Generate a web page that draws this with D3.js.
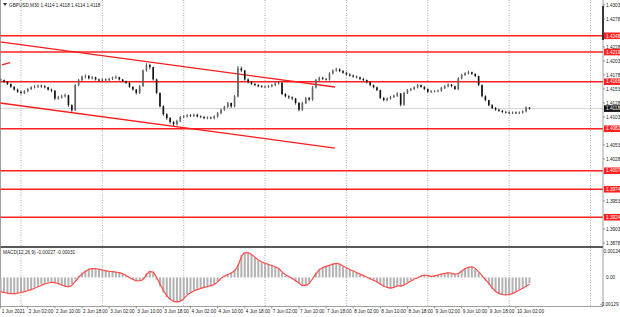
<!DOCTYPE html>
<html lang="en">
<head>
    <meta charset="UTF-8">
    <title>GBPUSD M30</title>
    <script src="https://d3js.org/d3.v7.min.js"></script>
    <style>
        body { margin: 0; background: #fff; }
        text { font-family: "Liberation Sans", Arial, sans-serif; font-size: 4.7px; fill: #222; }
        .lvl-label { fill: #fff; }
    </style>
</head>
<body>
    <svg width="620" height="317"></svg>
    <script>
        // prices in pips above 1.4000, one bar per hour starting 1 Jun 18:00
        const base = 1.4;
        const opens = [170,169,166,162,157,152,148,146,149,153,156,157,159,158,156,152,150,136,138,140,142,124,115,160,169,175,176,172,174,170,168,170,169,171,173,174,170,167,164,157,152,146,158,186,196,192,170,146,122,108,101,94,90,96,103,104,106,105,107,104,103,101,102,101,104,110,116,121,128,122,140,190,186,170,165,162,160,158,157,157,158,160,163,164,144,140,138,136,128,116,128,137,134,156,169,173,171,170,181,186,188,185,182,179,177,175,174,171,169,165,160,156,151,137,133,136,139,141,145,125,146,151,153,156,160,157,153,148,149,149,150,155,158,161,158,153,172,178,181,183,180,176,160,140,133,124,119,116,114,112,111,110,111,110,111,113,120];
        const highs = [172,170,167,163,158,154,150,151,155,158,160,161,161,160,157,154,151,141,143,145,143,126,162,171,177,179,178,176,175,172,172,172,173,175,177,175,171,168,165,158,153,160,188,199,198,193,172,147,124,110,103,96,98,105,106,108,108,109,109,106,105,104,104,106,112,118,123,130,129,142,194,193,187,172,167,164,162,160,159,160,162,165,167,165,146,142,140,137,130,130,139,139,158,171,175,175,173,183,188,191,190,187,184,181,179,177,175,173,170,166,161,157,152,139,138,141,143,147,146,148,153,155,158,162,161,158,154,151,151,152,157,160,163,162,159,174,180,183,186,184,181,177,161,142,134,126,121,118,116,114,113,113,113,113,115,122,121];
        const lows = [166,164,160,155,150,146,143,144,147,151,154,155,155,154,150,147,133,134,136,138,121,112,114,158,167,172,170,170,168,166,166,167,167,169,171,168,165,162,155,150,143,144,157,184,188,168,144,120,105,98,91,87,88,94,101,102,103,103,102,101,99,99,99,99,102,108,114,119,119,120,138,183,168,163,160,158,156,155,155,155,156,158,161,142,138,135,133,125,113,114,126,131,132,154,167,169,168,168,179,184,183,180,177,175,173,172,169,167,163,158,154,149,135,131,131,134,137,139,122,123,144,149,151,154,155,151,146,146,147,147,148,153,156,156,151,151,170,176,179,178,174,158,138,131,122,117,114,112,110,109,108,108,108,108,109,111,116];
        const closes = [169,166,162,157,152,148,146,149,153,156,157,159,158,156,152,150,136,138,140,142,124,115,160,169,175,176,172,174,170,168,170,169,171,173,174,170,167,164,157,152,146,158,186,196,192,170,146,122,108,101,94,90,96,103,104,106,105,107,104,103,101,102,101,104,110,116,121,128,122,140,190,186,170,165,162,160,158,157,157,158,160,163,164,144,140,138,136,128,116,128,137,134,156,169,173,171,170,181,186,188,185,182,179,177,175,174,171,169,165,160,156,151,137,133,136,139,141,145,125,146,151,153,156,160,157,153,148,149,149,150,155,158,161,158,153,172,178,181,183,180,176,160,140,133,124,119,116,114,112,111,110,111,110,111,113,120,118];

        // MACD(12,26,9), units of 0.00001
        const macdMain = [-66,-70,-73,-75,-73,-70,-66,-62,-57,-53,-45,-38,-31,-26,-22,-21,-24,-31,-37,-41,-44,-30,-9,8,22,32,40,41,40,35,31,29,27,25,24,22,15,6,-3,-12,-18,-14,-5,20,31,22,-10,-40,-68,-89,-102,-111,-110,-106,-92,-75,-66,-58,-53,-48,-44,-40,-36,-31,-16,0,8,15,22,35,58,102,115,110,102,88,75,68,62,58,52,46,38,20,8,2,-8,-18,-28,-40,-35,-22,0,22,40,46,52,57,62,66,58,49,42,34,27,20,13,6,0,-8,-15,-22,-32,-42,-47,-49,-44,-36,-40,-32,-22,-14,-6,0,8,12,8,4,8,13,16,19,22,18,14,20,33,42,48,49,38,20,4,-15,-32,-53,-66,-75,-79,-80,-76,-70,-63,-55,-46,-37,-27];
        const macdSignal = [-64,-68,-71,-73,-73,-71,-68,-64,-60,-55,-49,-42,-35,-29,-25,-22,-23,-28,-34,-39,-42,-35,-18,0,15,27,36,40,40,37,33,30,28,26,24,22,17,9,0,-8,-15,-15,-8,12,26,24,0,-30,-58,-82,-98,-108,-110,-107,-96,-80,-69,-61,-55,-50,-45,-41,-37,-32,-20,-4,5,13,20,31,52,92,111,111,104,91,79,70,64,59,54,48,40,25,12,4,-5,-15,-25,-36,-36,-26,-6,16,34,44,50,55,60,64,60,52,44,36,29,22,15,8,2,-6,-13,-20,-30,-39,-45,-48,-45,-38,-39,-34,-25,-16,-8,-2,6,10,9,5,7,11,15,18,21,19,15,18,29,39,46,48,41,25,8,-10,-27,-47,-62,-72,-77,-79,-77,-72,-65,-57,-49,-40,-31];

        const timeLabels = ["1 Jun 2021","2 Jun 02:00","2 Jun 10:00","2 Jun 18:00","3 Jun 02:00","3 Jun 10:00","3 Jun 18:00","4 Jun 02:00","4 Jun 10:00","4 Jun 18:00","7 Jun 02:00","7 Jun 10:00","7 Jun 18:00","8 Jun 02:00","8 Jun 10:00","8 Jun 18:00","9 Jun 02:00","9 Jun 10:00","9 Jun 18:00","10 Jun 02:00"];
        const priceTicks = [1.4303,1.4278,1.4253,1.4228,1.4203,1.4178,1.4153,1.4128,1.4103,1.4078,1.4053,1.4028,1.4003,1.3978,1.3953,1.3928,1.3903,1.3878];
        const levels = [1.4248,1.4219,1.4166,1.4082,1.4007,1.3974,1.3924];
        const lastPrice = 1.4118;
        const macdTicks = [0.00124, 0, -0.00129];
        // trend lines: [bar, price] pairs
        const trendLines = [
            [[-0.2, 1.4237], [98.6, 1.41566]],
            [[-0.2, 1.4128], [98.6, 1.40476]],
            [[0.4, 1.4196], [2.75, 1.4200]]
        ];

        const plotRight = 603;
        const svg = d3.select("svg");

        const x = d3.scaleLinear().domain([0, 174]).range([0.66, 590.5]);
        const y = d3.scaleLinear().domain([1.3878, 1.4303]).range([243, 5]);
        const ym = d3.scaleLinear().domain([-0.00129, 0.00124]).range([306, 250]);

        const bars = closes.map((c, i) => ({
            i, o: base + opens[i] / 1e4, h: base + highs[i] / 1e4,
            l: base + lows[i] / 1e4, c: base + c / 1e4
        }));

        svg.append("defs").append("clipPath").attr("id", "main")
            .append("rect").attr("x", 0).attr("y", 0).attr("width", plotRight).attr("height", 246);

        // day separators
        const days = d3.range(6, 175, 24);
        svg.append("g").selectAll("line").data(days).join("line")
            .attr("x1", d => x(d)).attr("x2", d => x(d))
            .attr("y1", 0).attr("y2", 306)
            .attr("stroke", "#9a9a9a").attr("stroke-width", 0.8)
            .attr("stroke-dasharray", "1,1.5");

        // bid line
        svg.append("line")
            .attr("x1", 0).attr("x2", plotRight)
            .attr("y1", y(lastPrice)).attr("y2", y(lastPrice))
            .attr("stroke", "#c8c8c8").attr("stroke-width", 0.8);

        // horizontal levels
        svg.append("g").selectAll("line").data(levels).join("line")
            .attr("x1", 0).attr("x2", plotRight)
            .attr("y1", d => y(d)).attr("y2", d => y(d))
            .attr("stroke", "#ff2020").attr("stroke-width", 1.6);

        // channel lines
        const main = svg.append("g").attr("clip-path", "url(#main)");
        main.selectAll("path.tl").data(trendLines).join("path")
            .attr("class", "tl")
            .attr("d", d3.line().x(d => x(d[0])).y(d => y(d[1])))
            .attr("stroke", "#ff1a1a").attr("stroke-width", 1.3).attr("fill", "none");

        // candles
        const cg = main.append("g");
        cg.selectAll("line").data(bars).join("line")
            .attr("x1", d => x(d.i)).attr("x2", d => x(d.i))
            .attr("y1", d => y(d.h)).attr("y2", d => y(d.l))
            .attr("stroke", "#222").attr("stroke-width", 0.8);
        cg.selectAll("rect").data(bars).join("rect")
            .attr("x", d => x(d.i) - 0.8).attr("width", 1.6)
            .attr("y", d => y(Math.max(d.o, d.c)))
            .attr("height", d => Math.max(0.7, Math.abs(y(d.o) - y(d.c))))
            .attr("fill", d => d.c >= d.o ? "#666" : "#111");

        // panel separators and borders
        svg.append("line").attr("x1", 0).attr("x2", plotRight).attr("y1", 247).attr("y2", 247)
            .attr("stroke", "#222").attr("stroke-width", 1.3);
        svg.append("line").attr("x1", 0).attr("x2", plotRight).attr("y1", 306.5).attr("y2", 306.5)
            .attr("stroke", "#888").attr("stroke-width", 0.8);
        svg.append("line").attr("x1", 0.5).attr("x2", 0.5).attr("y1", 0).attr("y2", 306.5)
            .attr("stroke", "#888").attr("stroke-width", 0.8);
        svg.append("line").attr("x1", plotRight).attr("x2", plotRight).attr("y1", 0).attr("y2", 306.5)
            .attr("stroke", "#888").attr("stroke-width", 0.8);
        svg.append("line").attr("x1", plotRight).attr("x2", plotRight).attr("y1", 6).attr("y2", 40)
            .attr("stroke", "#111").attr("stroke-width", 1.6);

        // MACD histogram and signal
        svg.append("g").selectAll("rect").data(macdMain).join("rect")
            .attr("x", (d, i) => x(i) - 1).attr("width", 2)
            .attr("y", d => Math.min(ym(0), ym(d / 1e5)))
            .attr("height", d => Math.abs(ym(d / 1e5) - ym(0)))
            .attr("fill", "#b2b2b2");
        svg.append("path").datum(macdSignal)
            .attr("d", d3.line().x((d, i) => x(i)).y(d => ym(d / 1e5)).curve(d3.curveMonotoneX))
            .attr("fill", "none").attr("stroke", "#ff4a4a").attr("stroke-width", 1.2);

        // price axis; labels hidden where a level tag covers them
        const tagged = levels.concat([lastPrice]);
        const shownTicks = priceTicks.filter(t => tagged.every(l => Math.abs(y(t) - y(l)) > 4.5));
        const ax = svg.append("g");
        ax.selectAll("line").data(priceTicks).join("line")
            .attr("x1", plotRight).attr("x2", plotRight + 2)
            .attr("y1", d => y(d)).attr("y2", d => y(d)).attr("stroke", "#555").attr("stroke-width", 0.6);
        ax.selectAll("text").data(shownTicks).join("text")
            .attr("x", 606).attr("y", d => y(d) + 1.7)
            .text(d => d.toFixed(4));

        ax.selectAll("text.m").data(macdTicks).join("text").attr("class", "m")
            .attr("x", (d, i) => i === 0 ? 603.5 : i === 1 ? 606 : 600)
            .attr("y", (d, i) => ym(d) + (i === 0 ? 3.2 : i === 2 ? 0 : 1.7))
            .text(d => d === 0 ? "0.00" : d.toFixed(5));

        // level price tags
        const lg = svg.append("g");
        lg.selectAll("rect").data(levels).join("rect")
            .attr("x", 604).attr("width", 16).attr("y", d => y(d) - 3.3).attr("height", 6.6)
            .attr("fill", "#ff2020");
        lg.selectAll("text").data(levels).join("text").attr("class", "lvl-label")
            .attr("x", 606).attr("y", d => y(d) + 1.7).text(d => d.toFixed(4));
        lg.append("rect").attr("x", 604).attr("width", 16).attr("y", y(lastPrice) - 3.3).attr("height", 6.6)
            .attr("fill", "#111");
        lg.append("text").attr("class", "lvl-label").attr("x", 606).attr("y", y(lastPrice) + 1.7)
            .text(lastPrice.toFixed(4));

        // time axis
        const tg = svg.append("g");
        tg.selectAll("line").data(timeLabels).join("line")
            .attr("x1", (d, k) => x(k * 8)).attr("x2", (d, k) => x(k * 8))
            .attr("y1", 306.5).attr("y2", 308.5).attr("stroke", "#555").attr("stroke-width", 0.6);
        tg.selectAll("text").data(timeLabels).join("text")
            .attr("x", (d, k) => x(k * 8) + 1).attr("y", 313).text(d => d);

        // headers
        svg.append("path").attr("d", "M3,3 L7,3 L5,6 Z").attr("fill", "#333");
        svg.append("text").attr("x", 9).attr("y", 6.5)
            .text("GBPUSD,M30  1.4114 1.4118 1.4114 1.4118");
        svg.append("text").attr("x", 3).attr("y", 253.5)
            .text("MACD(12,26,9) -0.00027 -0.00031");
    </script>
</body>
</html>
